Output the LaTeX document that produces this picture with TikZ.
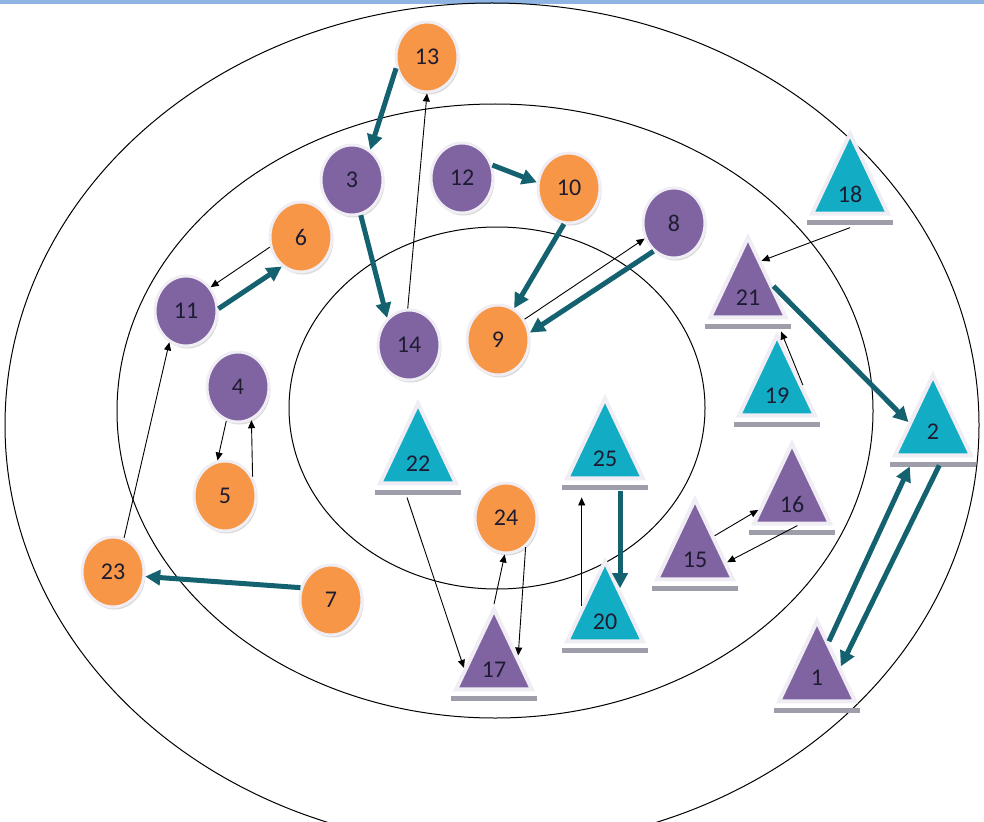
\documentclass[tikz,border=0pt]{standalone}
\usepackage{fontspec}
\setmainfont{Carlito}
\usepackage{xcolor}
\usepackage{tikz}
\usetikzlibrary{arrows.meta,positioning,calc,shapes.geometric,shadows}

\definecolor{ballorange}{RGB}{247,150,70}
\definecolor{ballpurple}{RGB}{128,100,162}
\definecolor{triteal}{RGB}{18,172,196}
\definecolor{flowteal}{RGB}{20,98,112}
\definecolor{ringgray}{RGB}{240,238,244}
\definecolor{bargray}{RGB}{158,158,170}
\definecolor{topband}{RGB}{141,180,226}
\definecolor{numcol}{RGB}{30,28,50}

\tikzset{
	ring/.style={draw=black, line width=1pt},
	ball/.style={ellipse, minimum width=62pt, minimum height=70pt, inner sep=0pt,
		draw=ringgray, line width=3pt, text=numcol,
		drop shadow={shadow xshift=1.5pt, shadow yshift=-2.5pt, opacity=0.3}},
	orangeball/.style={ball, fill=ballorange},
	purpleball/.style={ball, fill=ballpurple},
	tri/.style={isosceles triangle, shape border rotate=90, isosceles triangle stretches,
		minimum width=76pt, minimum height=80pt, inner sep=0pt,
		draw=ringgray, line width=4pt, text=numcol},
	tealtri/.style={tri, fill=triteal},
	purpletri/.style={tri, fill=ballpurple},
	tribar/.style={draw=bargray, line width=4.5pt, shorten <=-2pt, shorten >=-2pt},
	flow/.style={-{Triangle[length=15pt,width=15pt]}, line width=5pt, draw=flowteal},
	link/.style={-{Triangle[length=8pt,width=7pt]}, line width=0.9pt, draw=black}
}

\begin{document}
\begin{tikzpicture}[x=1pt, y=-1pt, font=\fontsize{24}{28}\selectfont]
	\useasboundingbox (0,0) rectangle (984,821);
	\clip (0,0) rectangle (984,821);
	\fill[topband] (0,0) rectangle (984,4);

	% rings
	\draw[ring] (492,425) ellipse [x radius=487, y radius=422];
	\draw[ring] (495,411) ellipse [x radius=378, y radius=307];
	\draw[ring] (497,408) ellipse [x radius=208, y radius=181];

	% circles
	\node[orangeball] (n13) at (427,57) {13};
	\node[purpleball] (n3) at (352,180) {3};
	\node[purpleball] (n12) at (462,178) {12};
	\node[orangeball] (n10) at (569,188) {10};
	\node[purpleball] (n8) at (674,223) {8};
	\node[orangeball] (n6) at (301,237) {6};
	\node[purpleball] (n11) at (186,311) {11};
	\node[purpleball] (n14) at (409,345) {14};
	\node[orangeball] (n9) at (498,340) {9};
	\node[purpleball] (n4) at (238,387) {4};
	\node[orangeball] (n5) at (225,496) {5};
	\node[orangeball] (n23) at (113,572) {23};
	\node[orangeball] (n7) at (331,600) {7};
	\node[orangeball] (n24) at (506,518) {24};

	% triangles
	\node[tealtri] (n18) at (850,194) {18};
	\node[purpletri] (n21) at (748,298) {21};
	\node[tealtri] (n19) at (777,396) {19};
	\node[tealtri] (n2) at (933,432) {2};
	\node[purpletri] (n16) at (792,504) {16};
	\node[purpletri] (n15) at (695,560) {15};
	\node[tealtri] (n22) at (418,464) {22};
	\node[tealtri] (n25) at (605,459) {25};
	\node[tealtri] (n20) at (605,622) {20};
	\node[purpletri] (n17) at (494,670) {17};
	\node[purpletri] (n1) at (817,678) {1};
	\foreach \t in {18,21,19,2,16,15,22,25,20,17,1}{
		\draw[tribar] ([yshift=-7pt]n\t.left corner) -- ([yshift=-7pt]n\t.right corner);
	}

	% thick arrows
	\draw[flow] (n13.200) -- (n3.59);
	\draw[flow] (n12.23) -- (n10.170);
	\draw[flow] (n10.262) -- (n9.63);
	\draw[flow] (n8.234) -- (n9.13);
	\draw[flow] (n3.284) -- (n14.129);
	\draw[flow] (n11.4) -- (n6.237);
	\draw[flow] (n7.158) -- (n23.352);
	\draw[flow] (n21.25) -- (n2.158);
	\draw[flow, shorten <=11pt] (n25.lower side -| n20.66) -- (n20.66);
	\draw[flow, shorten >=10pt] (n1.72) -- (n2.233);
	\draw[flow, shorten <=9pt] (n2.292) -- (n1.26);

	% thin arrows
	\draw[link] (n14.92) -- (n13.270);
	\draw[link] (n6.198) -- (n11.44);
	\draw[link] (n9.38) -- (n8.208);
	\draw[link] ([yshift=-12pt]n18.lower side) -- (n21.70);
	\draw[link] (n19.23) -- ([yshift=-12pt]n21.-33);
	\draw[link] (n23.72) -- (n11.242);
	\draw[link] (n4.251) -- (n5.102);
	\draw[link] (n5.35) -- (n4.292);
	\draw[link] ([xshift=-11pt,yshift=-12pt]n22.lower side) -- (n17.176);
	\draw[link] (n17.apex) -- (n24.268);
	\draw[link] (n24.304) -- (n17.31);
	\draw[link, shorten >=17pt] (n20.145) -- (n20.145 |- n25.lower side);
	\draw[link] (n15.51) -- (n16.190);
	\draw[link] (n16.284) -- (n15.356);
\end{tikzpicture}
\end{document}
